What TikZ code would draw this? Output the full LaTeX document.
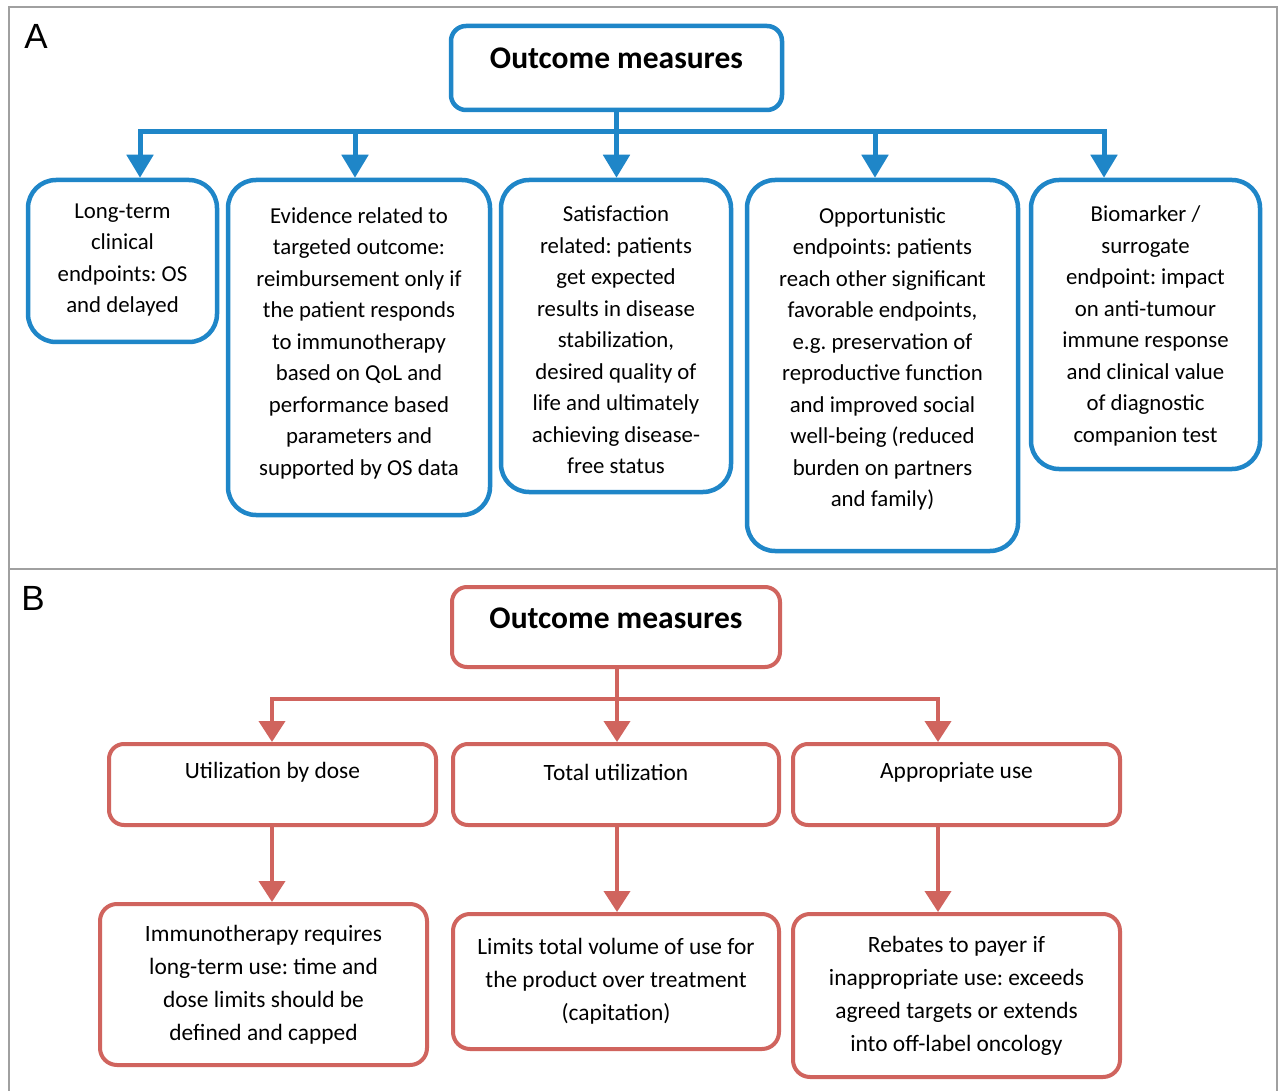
\documentclass[tikz,border=0pt]{standalone}
\usepackage{fontspec}
\setmainfont{Carlito}
\newfontfamily\labelfont{Liberation Sans}
\usetikzlibrary{arrows.meta}
\definecolor{bblue}{RGB}{31,134,200}
\definecolor{rred}{RGB}{208,100,94}
\definecolor{frame}{RGB}{160,160,160}
\frenchspacing
\begin{document}
\begin{tikzpicture}[x=1pt,y=-1pt,
  boxA/.style={draw=bblue,line width=4.5pt,rounded corners=28pt,inner sep=0pt},
  atext/.style={align=center,inner sep=0pt,font=\fontsize{22.8}{31.5}\selectfont},
  titleA/.style={draw=bblue,line width=4.5pt,rounded corners=15pt,inner sep=0pt},
  boxB/.style={draw=rred,line width=4pt,rounded corners=17pt,align=center,inner sep=0pt,
    font=\fontsize{23.4}{33}\selectfont},
  titleB/.style={draw=rred,line width=4pt,rounded corners=15pt,inner sep=0pt},
  ttext/.style={font=\fontsize{31.5}{36}\selectfont\bfseries,inner sep=0pt},
  btext/.style={font=\fontsize{23.4}{33}\selectfont,inner sep=0pt},
  bline/.style={draw=bblue,line width=5pt,line join=miter},
  rline/.style={draw=rred,line width=4pt,line join=miter},
  btip/.style={-{Triangle[width=26pt,length=23pt]}},
  btips/.style={{Triangle[width=26pt,length=23pt]}-{Triangle[width=26pt,length=23pt]}},
  rtip/.style={-{Triangle[width=26pt,length=21pt]}},
  rtips/.style={{Triangle[width=26pt,length=21pt]}-{Triangle[width=26pt,length=21pt]}},
  plabel/.style={font=\labelfont\fontsize{35}{40}\selectfont,inner sep=0pt}
]
\useasboundingbox (0,0) rectangle (1278,1091);
\fill[white] (0,0) rectangle (1278,1091);
% frame
\draw[frame,line width=1.5pt] (9,1095) -- (9,7) -- (1277,7) -- (1277,1095);
\draw[frame,line width=1.5pt] (9,569) -- (1277,569);
\node[plabel] (labA) at (36,36) {A};
\node[plabel] (labB) at (33,598) {B};

% ---------------- Panel A ----------------
\node[titleA,minimum width=331pt,minimum height=84pt] (tA) at (616.5,68) {};
\node[ttext] (tAt) at (616.5,58) {Outcome measures};

\node[boxA,minimum width=189pt,minimum height=162pt] (a1) at (122.5,261) {};
\node[boxA,minimum width=262pt,minimum height=335pt] (a2) at (359,347.5) {};
\node[boxA,minimum width=230pt,minimum height=312pt] (a3) at (616,336) {};
\node[boxA,minimum width=271pt,minimum height=371pt] (a4) at (882.5,365.5) {};
\node[boxA,minimum width=229pt,minimum height=289pt] (a5) at (1145.5,324.5) {};

\node[atext] (a1t) at (122.5,260) {Long-term\\clinical\\endpoints: OS\\and delayed};
\node[atext] (a2t) at (359,343) {Evidence related to\\targeted outcome:\\reimbursement only if\\the patient responds\\to immunotherapy\\based on QoL and\\performance based\\parameters and\\supported by OS data};
\node[atext] (a3t) at (616,340) {Satisfaction\\related: patients\\get expected\\results in disease\\stabilization,\\desired quality of\\life and ultimately\\achieving disease-\\free status};
\node[atext] (a4t) at (882.5,359) {Opportunistic\\endpoints: patients\\reach other significant\\favorable endpoints,\\e.g. preservation of\\reproductive function\\and improved social\\well-being (reduced\\burden on partners\\and family)};
\node[atext] (a5t) at (1145.5,326) {Biomarker /\\surrogate\\endpoint: impact\\on anti-tumour\\immune response\\and clinical value\\of diagnostic\\companion test};

\coordinate (ax1) at (140,132);
\coordinate (ax2) at (355,132);
\coordinate (ax3) at (616,132);
\coordinate (ax4) at (875,132);
\coordinate (ax5) at (1104,132);

\draw[bline,btips] (a1.north -| ax1) -- (ax1) -- (ax5) -- (a5.north -| ax5);
\draw[bline,btip] (tA.south) -- (a3.north -| tA.south);
\draw[bline,btip] (ax2) -- (a2.north -| ax2);
\draw[bline,btip] (ax4) -- (a4.north -| ax4);

% ---------------- Panel B ----------------
\node[titleB,minimum width=328pt,minimum height=80pt] (tB) at (616,627) {};
\node[ttext] (tBt) at (616,618) {Outcome measures};

\node[titleB,minimum width=327pt,minimum height=81pt] (b1) at (272.5,784.5) {};
\node[titleB,minimum width=326pt,minimum height=81pt] (b2) at (616,784.5) {};
\node[titleB,minimum width=327pt,minimum height=81pt] (b3) at (956.5,784.5) {};
\node[btext] (b1t) at (272.5,772) {Utilization by dose};
\node[btext] (b2t) at (616,772) {Total utilization};
\node[btext] (b3t) at (956.5,772) {Appropriate use};

\node[boxB,minimum width=327pt,minimum height=161pt] (c1) at (263.5,984.5) {Immunotherapy requires\\long-term use: time and\\dose limits should be\\defined and capped};
\node[boxB,minimum width=326pt,minimum height=135pt] (c2) at (616,981.5) {Limits total volume of use for\\the product over treatment\\(capitation)};
\node[boxB,minimum width=327pt,minimum height=163pt] (c3) at (956.5,995.5) {Rebates to payer if\\inappropriate use: exceeds\\agreed targets or extends\\into off-label oncology};

\coordinate (bx1) at (272,699);
\coordinate (bx2) at (617,699);
\coordinate (bx3) at (938,699);

\draw[rline,rtips] (b1.north -| bx1) -- (bx1) -- (bx3) -- (b3.north -| bx3);
\draw[rline,rtip] (tB.south -| bx2) -- (b2.north -| bx2);
\draw[rline,rtip] (b1.south -| bx1) -- (c1.north -| bx1);
\draw[rline,rtip] (b2.south -| bx2) -- (c2.north -| bx2);
\draw[rline,rtip] (b3.south -| bx3) -- (c3.north -| bx3);
\end{tikzpicture}
\end{document}
